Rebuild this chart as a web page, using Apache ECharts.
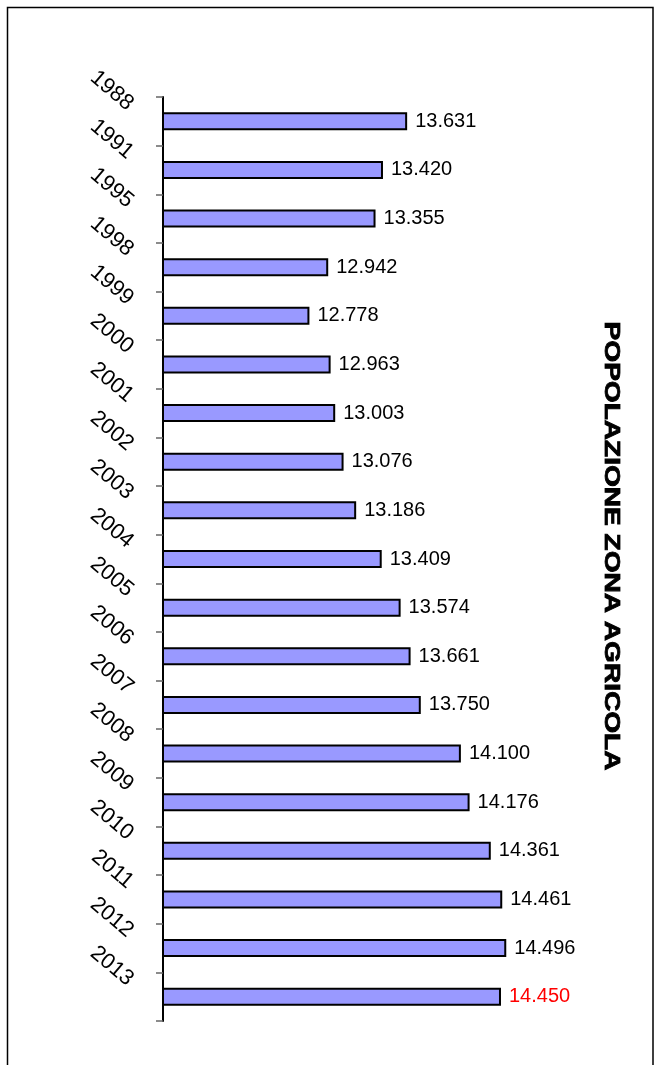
<!DOCTYPE html>
<html>
<head>
<meta charset="utf-8">
<script src="https://cdn.jsdelivr.net/npm/echarts@6/dist/echarts.min.js"></script>
<style>
html,body{margin:0;padding:0;background:#fff;}
#chart{width:656px;height:1065px;}
</style>
</head>
<body>
<div id="chart"></div>
<script>
const years = ['1988','1991','1995','1998','1999','2000','2001','2002','2003','2004','2005','2006','2007','2008','2009','2010','2011','2012','2013'];
const values = [13631,13420,13355,12942,12778,12963,13003,13076,13186,13409,13574,13661,13750,14100,14176,14361,14461,14496,14450];
const highlightIndex = values.length - 1;
const titleText = 'POPOLAZIONE ZONA AGRICOLA';

const fmt = v => String(v).replace(/\B(?=(\d{3})+(?!\d))/g, '.');
const FONT = '"Liberation Sans", Arial, sans-serif';

const chart = echarts.init(document.getElementById('chart'), null, {renderer: 'canvas'});
chart.setOption({
  animation: false,
  backgroundColor: '#ffffff',
  grid: {left: 163, top: 97, width: 401, height: 924, containLabel: false},
  xAxis: {
    type: 'value', min: 11500, max: 15000, show: false,
    splitLine: {show: false}
  },
  yAxis: {
    type: 'category', data: years, inverse: true,
    axisLine: {show: true, onZero: false, lineStyle: {color: '#000', width: 2}},
    axisTick: {show: true, length: 7, lineStyle: {color: '#666', width: 1.5}},
    axisLabel: {
      rotate: -40, margin: 45, fontSize: 22, color: '#000', fontFamily: FONT,
      align: 'right', verticalAlign: 'bottom', lineHeight: 39,
      interval: 0, showMinLabel: true, showMaxLabel: true, hideOverlap: false
    },
    splitLine: {show: false}
  },
  series: [{
    type: 'bar',
    barWidth: 18,
    data: values.map((v, i) => i === highlightIndex ? {value: v, label: {color: '#ff0000'}} : v),
    itemStyle: {color: '#9999ff', borderColor: '#000', borderWidth: 2},
    label: {
      show: true, position: 'right', distance: 8,
      fontSize: 20, color: '#000', fontFamily: FONT,
      formatter: p => fmt(p.value)
    }
  }],
  graphic: [
    {
      type: 'rect', silent: true,
      shape: {x: 7.5, y: 7.5, width: 645.5, height: 1100},
      style: {fill: 'none', stroke: '#000', lineWidth: 1.5}
    },
    {
      type: 'text', silent: true,
      x: 611, y: 546, rotation: -Math.PI / 2, scaleX: 1.275,
      style: {
        text: titleText, fill: '#000', stroke: '#000', lineWidth: 0.8,
        font: 'bold 22px ' + FONT,
        textAlign: 'center', textVerticalAlign: 'middle'
      }
    }
  ]
});
</script>
</body>
</html>
